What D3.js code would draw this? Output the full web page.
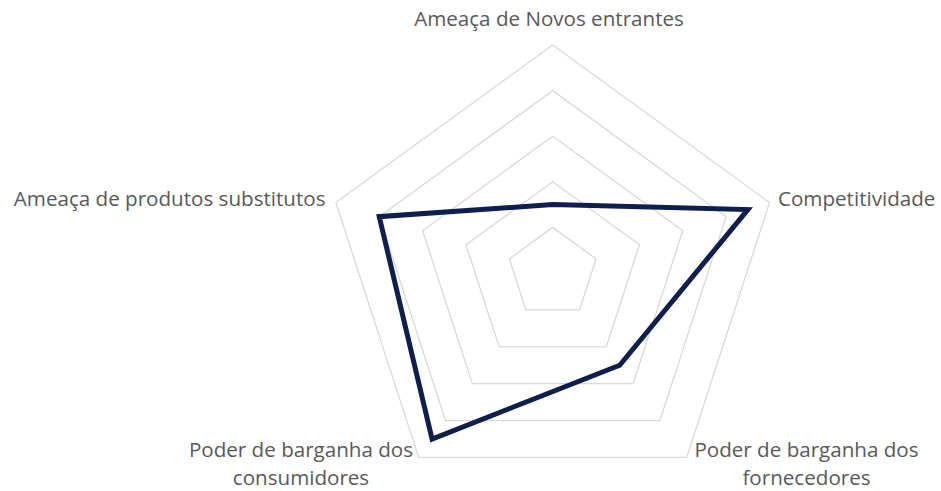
<!DOCTYPE html>
<html>
<head>
<meta charset="utf-8">
<script src="https://cdn.jsdelivr.net/npm/d3@7"></script>
<style>
  body { margin: 0; background: #fff; }
  svg { display: block; }
  text { font-family: "Open Sans", "Noto Sans", sans-serif; fill: #595959; }
</style>
</head>
<body>
<svg></svg>
<script>
// categories (axes of the radar) and the single series
const categories = ["Ameaça de Novos entrantes", "Competitividade", "Poder de barganha dos fornecedores", "Poder de barganha dos consumidores", "Ameaça de produtos substitutos"];
const values = [1.5, 4.5, 2.5, 4.5, 4.0];
const gridLevels = [1, 2, 3, 4, 5];

const w = 941;
const h = 491;
const cx = 552.7, cy = 273;//centre of radar
const R = 228;//outer radius

let svg = d3.select("svg").attr("width", w).attr("height", h);

let rScale = d3.scaleLinear().domain([0, 5]).range([0, R]);
let angle = d3.scalePoint().domain(categories).range([0, 2 * Math.PI * 4 / 5]);

let pt = (cat, v) => {
  let a = angle(cat);
  return [cx + rScale(v) * Math.sin(a), cy - rScale(v) * Math.cos(a)];
};

let line = d3.line().x(d => d[0]).y(d => d[1]).curve(d3.curveLinearClosed);

// grid pentagons
svg.append("g").selectAll("path")
  .data(gridLevels)
  .enter()
  .append("path")
  .attr("d", lv => line(categories.map(c => pt(c, lv))))
  .attr("fill", "none")
  .attr("stroke", "#d9d9d9")
  .attr("stroke-width", 1.3);

// series
svg.append("path")
  .attr("d", line(categories.map((c, i) => pt(c, values[i]))))
  .attr("fill", "none")
  .attr("stroke", "#0e1f4d")
  .attr("stroke-width", 5)
  .attr("stroke-linejoin", "miter");

// labels
const fs = 20.6;
let labels = [
  {lines: ["Ameaça de Novos entrantes"], x: 549, y: 26, anchor: "middle"},
  {lines: ["Competitividade"], x: 778, y: 206, anchor: "start"},
  {lines: ["Poder de barganha dos", "fornecedores"], x: 806.5, y: 456.5, anchor: "middle"},
  {lines: ["Poder de barganha dos", "consumidores"], x: 301, y: 456.5, anchor: "middle"},
  {lines: ["Ameaça de produtos substitutos"], x: 325.5, y: 205.5, anchor: "end"}
];

labels.forEach(l => {
  let t = svg.append("text")
    .attr("x", l.x)
    .attr("y", l.y)
    .attr("text-anchor", l.anchor)
    .style("font-size", fs + "px");
  l.lines.forEach((s, i) => {
    t.append("tspan").attr("x", l.x).attr("dy", i == 0 ? 0 : 28.5).text(s);
  });
});
</script>
</body>
</html>
